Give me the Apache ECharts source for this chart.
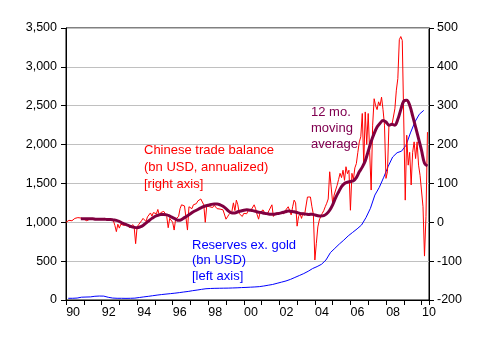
<!DOCTYPE html>
<html><head><meta charset="utf-8">
<script src="https://cdn.jsdelivr.net/npm/echarts@6/dist/echarts.min.js"></script>
<style>html,body{margin:0;padding:0;background:#fff}#c{width:489px;height:345px}</style>
</head><body><div id="c"></div>
<script>
// Chinese trade balance, bn USD annualized, monthly from Jan 1990 (right axis)
const tradeStart = 1990;
const tradeBalance = [
  0, 3, 5, 7, 4, 8, 10, 9, 12, 16, 11, 8,
  8, 9, 4, 3, 8, 10, 9, 7, 9, 10, 8, 6,
  8, 6, 10, 7, 9, 5, 8, 10, 4, -8, -24, -5,
  -15, -5, -10, -8, -12, -6, -10, -14, -9, -6, -12, -55,
  -12, -6, -2, 4, 10, 6, 2, 14, 18, 24, 16, 25,
  30, 22, 33, 18, 25, 20, 28, 22, 15, -14, 10, 5,
  0, -20, 8, 12, 15, 35, 45, 47, 42, 38, -20, 40,
  40, 35, 45, 50, 48, 55, 59, 60, 58, 45, 0, 42,
  45, 40, 42, 38, 44, 40, 35, 38, 34, 36, 32, 30,
  8, 14, 20, 25, 28, 50, 30, 57, 45, 22, 18, 15,
  23, 28, 22, 30, 27, 32, 28, 45, 35, 20, 8, 25,
  23, 32, 25, 28, 22, 30, 35, 45, 15, 22, 18, 25,
  20, 24, 27, 22, 30, 26, 40, 30, 19, 40, 57, 50,
  -10, 15, 22, 10, 25, 18, 22, 65, 62, 65, 40, 20,
  -97, -54, -12, 6, 15, 23, 30, 40, 49, 60, 130, 91,
  49, 70, 83, 95, 110, 126, 115, 134, 108, 143, 125, 134,
  31, 126, 110, 140, 151, 180, 207, 220, 280, 150, 284, 200,
  280, 180, 83, 250, 318, 300, 290, 310, 300, 322, 290, 250,
  113, 130, 250, 255, 250, 255, 292, 340, 370, 470, 478, 468,
  465, 57, 224, 147, 180, 96, 180, 207, 164, 207, 147, 121,
  120, 40, -87, 15, 232
];
// 12 mo. moving average, read every two months from Nov 1990 (right axis)
const maStart = 1990 + 10 / 12;
const movingAverage = [
  9, 9, 9, 9, 9, 8, 8, 8, 8, 7, 7, 6, 5,
  2, -2, -5, -8, -11, -13,
  -14, -12, -8, -2, 4, 10,
  15, 18, 20, 20, 19, 16,
  12, 8, 5, 7, 12, 17,
  22, 27, 31, 35, 39, 42,
  44, 46, 47, 47, 45, 41,
  35, 28, 24, 24, 27, 29,
  31, 32, 31, 30, 28, 26,
  25, 23, 22, 21, 21, 22,
  23, 25, 27, 29, 28, 27,
  25, 23, 22, 21, 20, 21,
  19, 17, 16, 17, 22, 31,
  45, 63, 78, 92, 100, 103,
  105, 107, 115, 130, 142, 158,
  183, 208, 228, 245, 255, 262,
  258, 250, 252, 250, 265, 290,
  312, 314, 301, 274, 245, 215,
  185, 152, 145
];
// Reserves ex. gold, bn USD, quarterly (left axis)
const reservesStart = 1990.125;
const reserves = [
  22, 22, 25, 36,  38, 40, 48, 51,  50, 35, 25, 22,  22, 21, 22, 24,
  32, 40, 47, 55,  63, 70, 76, 82,  88, 95, 103, 110,  120, 128, 137, 145,
  148, 150, 151, 152,  153, 155, 157, 160,  162, 165, 168, 172,  180, 190, 200, 215,
  230, 245, 265, 290,  315, 340, 370, 405,  430, 460, 515, 610,  665, 720, 770, 825,
  870, 915, 965, 1060,  1180, 1350, 1450, 1580,  1720, 1840, 1895, 1915,  1990, 2150, 2290, 2390,
  2440
];
// Tick labels
const xLabelYears = [1990, 1992, 1994, 1996, 1998, 2000, 2002, 2004, 2006, 2008, 2010];
const xLabels = ['90', '92', '94', '96', '98', '00', '02', '04', '06', '08', '10'];

const FONT = '"Liberation Sans", Arial, sans-serif';
const fmtThousands = v => {
  if (v >= 1000) return Math.floor(v / 1000) + ',' + String(v % 1000).padStart(3, '0');
  return String(v);
};

const chart = echarts.init(document.getElementById('c'), null, {renderer: 'canvas'});
chart.setOption({
  animation: false,
  backgroundColor: '#fff',
  textStyle: {fontFamily: FONT},
  grid: {left: 66, right: 60, top: 28, bottom: 45, show: true, borderColor: '#000', borderWidth: 1, backgroundColor: 'transparent'},
  xAxis: [
    {
      type: 'value', min: 1990, max: 2010.42, interval: 1, position: 'bottom',
      axisLine: {show: true, lineStyle: {color: '#000', width: 1}},
      axisTick: {show: true, inside: false, length: 5, lineStyle: {color: '#000'}},
      axisLabel: {show: false},
      splitLine: {show: false}
    },
    {
      type: 'value', min: 1989.6, max: 2010.02, interval: 0.2, position: 'bottom',
      axisLine: {show: false}, axisTick: {show: false}, splitLine: {show: false},
      axisLabel: {
        show: true, margin: 6, fontSize: 12.5, color: '#000', fontFamily: FONT,
        showMinLabel: true, showMaxLabel: true,
        formatter: v => {
          const y = Math.round(v * 10) / 10;
          if (Math.abs(y - Math.round(y)) > 1e-6) return '';
          const i = xLabelYears.indexOf(Math.round(y));
          return i >= 0 ? xLabels[i] : '';
        }
      }
    }
  ],
  yAxis: [
    {
      type: 'value', min: 0, max: 3500, interval: 500, position: 'left',
      axisLine: {show: true, lineStyle: {color: '#000', width: 1}},
      axisTick: {show: true, inside: false, length: 5, lineStyle: {color: '#000'}},
      axisLabel: {margin: 9, fontSize: 12.5, color: '#000', fontFamily: FONT, formatter: fmtThousands},
      splitLine: {show: true, lineStyle: {color: '#c0c0c0', width: 1}}
    },
    {
      type: 'value', min: -200, max: 500, interval: 100, position: 'right',
      axisLine: {show: true, lineStyle: {color: '#000', width: 1}},
      axisTick: {show: true, inside: false, length: 5, lineStyle: {color: '#000'}},
      axisLabel: {margin: 8, fontSize: 12.5, color: '#000', fontFamily: FONT},
      splitLine: {show: false}
    }
  ],
  series: [
    {
      name: 'Reserves', type: 'line', xAxisIndex: 0, yAxisIndex: 0,
      data: reserves.map((v, i) => [reservesStart + i * 0.25, v]),
      showSymbol: false, symbol: 'none',
      lineStyle: {color: '#0000ff', width: 1}, itemStyle: {color: '#0000ff'}
    },
    {
      name: 'Trade balance', type: 'line', xAxisIndex: 0, yAxisIndex: 1,
      data: tradeBalance.map((v, i) => [tradeStart + i / 12, v]),
      showSymbol: false, symbol: 'none',
      lineStyle: {color: '#ff0000', width: 1}, itemStyle: {color: '#ff0000'}
    },
    {
      name: 'MA', type: 'line', xAxisIndex: 0, yAxisIndex: 1,
      data: movingAverage.map((v, i) => [maStart + i / 6, v]),
      showSymbol: false, symbol: 'none', smooth: 0.35,
      lineStyle: {color: '#800040', width: 3}, itemStyle: {color: '#800040'}
    }
  ],
  graphic: [
    {type: 'text', left: 144, top: 142, z: 100,
      style: {text: 'Chinese trade balance\n(bn USD, annualized)\n[right axis]', fill: '#ff0000', font: '13px ' + FONT, lineHeight: 17}},
    {type: 'text', left: 311, top: 104, z: 100,
      style: {text: '12 mo.\nmoving\naverage', fill: '#800050', font: '13px ' + FONT, lineHeight: 16}},
    {type: 'text', left: 192, top: 237.5, z: 100,
      style: {text: 'Reserves ex. gold\n(bn USD)\n[left axis]', fill: '#0000ff', font: '13px ' + FONT, lineHeight: 15.5}}
  ]
});
</script>
</body></html>
